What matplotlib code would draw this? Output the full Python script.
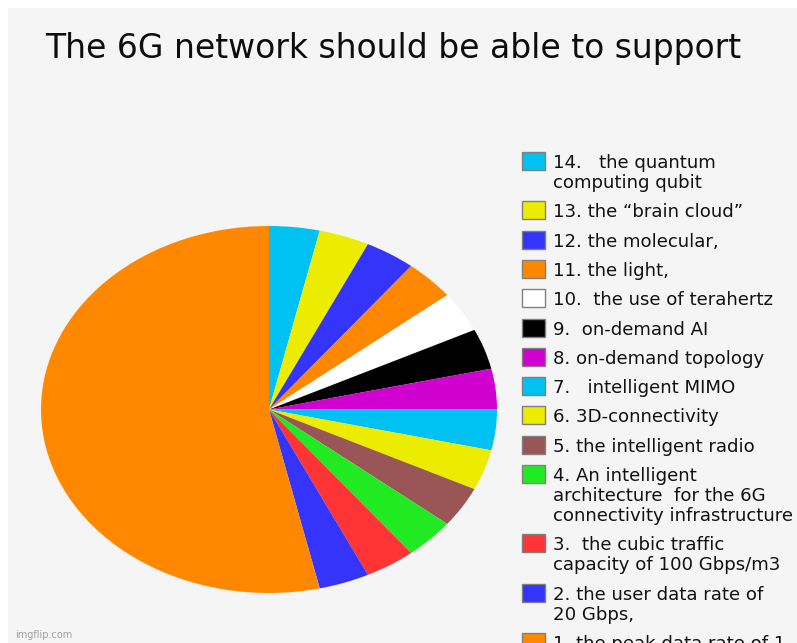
import matplotlib
matplotlib.use("Agg")
import matplotlib.pyplot as plt
from matplotlib.patches import Rectangle

plt.rcParams['font.family'] = ['DejaVu Sans']

# Legend entries in display order (top to bottom); the pie runs clockwise from 12 o'clock in the same order
labels = [
    "14.   the quantum\ncomputing qubit",
    "13. the \u201cbrain cloud\u201d",
    "12. the molecular,",
    "11. the light,",
    "10.  the use of terahertz",
    "9.  on-demand AI",
    "8. on-demand topology",
    "7.   intelligent MIMO",
    "6. 3D-connectivity",
    "5. the intelligent radio",
    "4. An intelligent\narchitecture  for the 6G\nconnectivity infrastructure",
    "3.  the cubic traffic\ncapacity of 100 Gbps/m3",
    "2. the user data rate of\n20 Gbps,",
    "1. the peak data rate of 1\nTbps,",
]
values = [1, 1, 1, 1, 1, 1, 1, 1, 1, 1, 1, 1, 1, 15]
colors = [
    "#00c2f2", "#ecec00", "#3434fa", "#ff8800", "#ffffff", "#000000",
    "#d000d0", "#00c2f2", "#ecec00", "#9a5656", "#22ea22", "#ff3434",
    "#3434fa", "#ff8800",
]
title = "The 6G network should be able to support"

W, H = 797, 643
fig = plt.figure(figsize=(W / 100, H / 100), dpi=100)
fig.patch.set_facecolor("white")

def fx(x):
    return x / W

def fy(y):
    return 1 - y / H

# light grey panel behind everything
fig.patches.append(Rectangle((fx(8), 0), 1 - fx(8), fy(8), transform=fig.transFigure,
                             facecolor="#f5f5f5", edgecolor="none", zorder=-5))

fig.text(fx(45), fy(45), title, fontsize=23.8, color="#0d0d0d",
         ha="left", va="center_baseline")

# elliptical pie
left, right, top, bottom = 41, 497, 226, 593
ax = fig.add_axes([fx(left), fy(bottom), (right - left) / W, (bottom - top) / H])
ax.pie(values, colors=colors, startangle=90, counterclock=False,
       wedgeprops=dict(linewidth=0))
ax.set_aspect("auto")
ax.set_xlim(-1, 1)
ax.set_ylim(-1, 1)
ax.axis("off")

# legend
y = 161.0
for lab, col in zip(labels, colors):
    fig.patches.append(Rectangle((fx(522), fy(y + 9)), 23 / W, 18 / H,
                                 transform=fig.transFigure, facecolor=col,
                                 edgecolor="#808080", linewidth=1.0, zorder=3))
    lines = lab.split("\n")
    for i, ln in enumerate(lines):
        fig.text(fx(553), fy(y + 20 * i), ln, fontsize=13.1, color="#111111",
                 ha="left", va="center_baseline")
    y += 29.3 + 20 * (len(lines) - 1)

fig.text(fx(15), fy(634), "imgflip.com", fontsize=7, color="#a0a0a0",
         ha="left", va="center_baseline")

fig.savefig("out.png", dpi=100, facecolor=fig.get_facecolor())
